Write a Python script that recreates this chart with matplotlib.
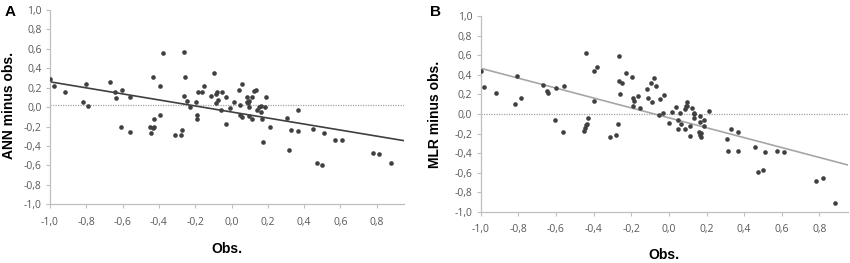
import matplotlib
matplotlib.use('Agg')
import matplotlib.pyplot as plt
from matplotlib.ticker import FuncFormatter
import numpy as np

# Panel A: observation vs. ANN minus obs.
obs_a = [-1.000, -0.978, -0.916, -0.817, -0.802, -0.789, -0.668, -0.642, -0.635, -0.602,
         -0.607, -0.558, -0.560, -0.433, -0.380, -0.396, -0.394, -0.428, -0.448, -0.446,
         -0.435, -0.429, -0.264, -0.257, -0.261, -0.244, -0.229, -0.272, -0.277, -0.312,
         -0.196, -0.189, -0.189, -0.185, -0.163, -0.152, -0.114, -0.097, -0.086, -0.083,
         -0.081, -0.072, -0.059, -0.050, -0.029, -0.033, -0.006, 0.015, 0.039, 0.046,
         0.044, 0.055, 0.055, 0.083, 0.086, 0.092, 0.097, 0.094, 0.097, 0.110,
         0.110, 0.123, 0.134, 0.138, 0.154, 0.161, 0.163, 0.169, 0.171, 0.189,
         0.185, 0.211, 0.306, 0.314, 0.325, 0.367, 0.367, 0.450, 0.470, 0.497,
         0.512, 0.572, 0.611, 0.778, 0.813, 0.881]
diff_a = [0.288, 0.213, 0.154, 0.048, 0.233, 0.014, 0.261, 0.158, 0.093, 0.172,
          -0.206, 0.106, -0.257, 0.312, 0.552, 0.213, -0.082, -0.127, -0.209, -0.271,
          -0.220, -0.209, 0.566, 0.305, 0.113, 0.058, -0.003, -0.233, -0.285, -0.285,
          0.051, -0.086, -0.123, 0.158, 0.158, 0.220, 0.110, 0.350, 0.041, 0.137,
          0.158, 0.069, -0.027, 0.158, 0.106, -0.178, -0.014, 0.055, 0.172, 0.021,
          -0.086, -0.103, 0.237, 0.051, 0.103, 0.041, 0.000, -0.093, 0.065, 0.103,
          -0.123, 0.161, 0.175, -0.034, 0.000, 0.007, -0.055, -0.120, -0.357, 0.103,
          0.003, -0.206, -0.117, -0.443, -0.240, -0.034, -0.250, -0.223, -0.576, -0.593,
          -0.271, -0.336, -0.343, -0.477, -0.480, -0.576]
mean_a = 0.025

# Panel B: observation vs. MLR minus obs.
obs_b = [-0.998, -0.983, -0.919, -0.806, -0.820, -0.788, -0.670, -0.647, -0.640, -0.606,
         -0.602, -0.560, -0.558, -0.438, -0.399, -0.383, -0.398, -0.431, -0.442, -0.445,
         -0.449, -0.436, -0.263, -0.265, -0.247, -0.258, -0.230, -0.270, -0.279, -0.314,
         -0.198, -0.191, -0.187, -0.193, -0.163, -0.152, -0.115, -0.113, -0.081, -0.094,
         -0.071, -0.088, -0.049, -0.028, -0.055, -0.030, 0.000, 0.014, 0.039, 0.046,
         0.057, 0.046, 0.062, 0.087, 0.090, 0.097, 0.095, 0.088, 0.110, 0.110,
         0.124, 0.133, 0.136, 0.134, 0.163, 0.166, 0.159, 0.166, 0.173, 0.170,
         0.189, 0.186, 0.212, 0.309, 0.316, 0.329, 0.367, 0.367, 0.456, 0.472,
         0.498, 0.512, 0.574, 0.611, 0.781, 0.818, 0.880]
diff_b = [0.442, 0.272, 0.214, 0.391, 0.105, 0.160, 0.293, 0.238, 0.211, -0.058,
          0.269, -0.184, 0.286, 0.622, 0.439, 0.483, 0.129, -0.044, -0.116, -0.139,
          -0.177, -0.099, 0.592, 0.340, 0.316, 0.204, 0.422, -0.099, -0.218, -0.235,
          0.378, 0.163, 0.129, 0.082, 0.184, 0.058, 0.255, 0.167, 0.371, 0.320,
          0.286, 0.126, 0.150, 0.190, -0.014, 0.014, -0.088, 0.024, 0.075, -0.065,
          0.014, -0.150, -0.105, 0.054, 0.078, 0.126, 0.085, -0.156, -0.122, -0.228,
          0.058, -0.003, -0.037, 0.014, -0.020, -0.078, -0.184, -0.211, -0.235, -0.194,
          -0.065, -0.122, 0.031, -0.259, -0.381, -0.156, -0.381, -0.187, -0.333, -0.595,
          -0.571, -0.388, -0.374, -0.388, -0.680, -0.653, -0.908]
mean_b = 0.005

x_ticks = np.round(np.arange(-1.0, 0.81, 0.2), 1)
y_ticks = np.round(np.arange(-1.0, 1.01, 0.2), 1)

comma = FuncFormatter(lambda v, p: f'{v:.1f}'.replace('.', ',').replace('-0,0', '0,0'))

plt.rcParams['font.family'] = ['Open Sans', 'DejaVu Sans']

fig = plt.figure(figsize=(8.5, 2.63), dpi=100)
ax_a = fig.add_axes([0.0588, 0.2232, 0.4165, 0.739])
ax_b = fig.add_axes([0.5655, 0.194, 0.4318, 0.745])


def desenhar(ax, obs, diff, media, cor_linha, rotulo):
    ax.axhline(media, color='#a6a6a6', lw=0.9, ls=(0, (1, 1)), zorder=1)
    a, b = np.polyfit(obs, diff, 1)
    xs = np.array([-1.0, 0.95])
    ax.plot(xs, a * xs + b, color=cor_linha, lw=1.2, zorder=2)
    ax.scatter(obs, diff, s=11, color='#404040', zorder=3, linewidths=0)

    ax.set_xlim(-1.0, 0.95)
    ax.set_ylim(-1.0, 1.0)
    ax.set_xticks(x_ticks)
    ax.set_yticks(y_ticks)
    ax.xaxis.set_major_formatter(comma)
    ax.yaxis.set_major_formatter(comma)
    for s in ['top', 'right']:
        ax.spines[s].set_visible(False)
    for s in ['left', 'bottom']:
        ax.spines[s].set_color('#bfbfbf')
        ax.spines[s].set_linewidth(0.9)
    ax.tick_params(direction='out', length=3, width=0.8, color='#bfbfbf',
                   labelcolor='#595959', labelsize=7.5, pad=3)
    ax.tick_params(axis='x', pad=6)
    ax.set_ylabel(rotulo, fontsize=10, fontweight='bold', family='Liberation Sans')
    ax.set_xlabel('Obs.', fontsize=10, fontweight='bold', family='Liberation Sans')


desenhar(ax_a, obs_a, diff_a, mean_a, '#404040', 'ANN minus obs.')
desenhar(ax_b, obs_b, diff_b, mean_b, '#a6a6a6', 'MLR minus obs.')
ax_a.yaxis.set_label_coords(-0.097, 0.51)
ax_b.yaxis.set_label_coords(-0.106, 0.50)
ax_a.xaxis.set_label_coords(0.5, -0.195)
ax_b.xaxis.set_label_coords(0.5, -0.185)

fig.text(0.006, 0.955, 'A', fontsize=11, fontweight='bold', family='Liberation Sans', va='center')
fig.text(0.506, 0.955, 'B', fontsize=11, fontweight='bold', family='Liberation Sans', va='center')

fig.savefig('out.png', dpi=100)
